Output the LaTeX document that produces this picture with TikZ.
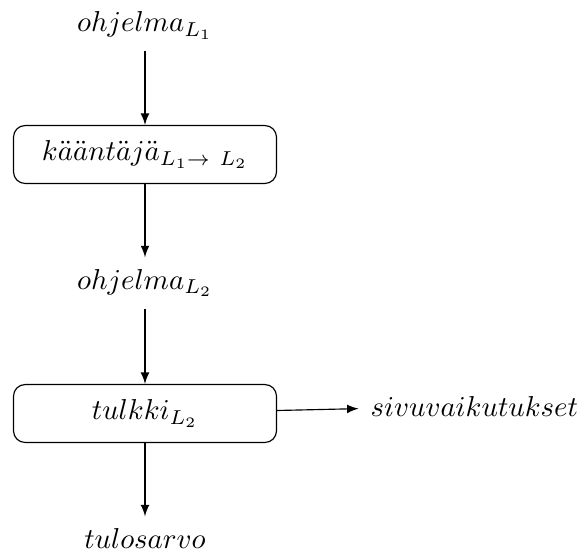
\documentclass[tikz,border=0pt]{standalone}
\usepackage{amsmath}
\usepackage{xcolor}
\usepackage{tikz}

\begin{document}
\begin{tikzpicture}[
			x=0.3472pt, y=-0.3472pt,
			% Define the style for the boxes, texts and arrows
			box/.style={rectangle, draw, rounded corners=4pt, minimum width=91.3pt, minimum height=20.1pt},
			txt/.style={inner sep=4pt},
			arr/.style={-latex}
			]
			\useasboundingbox (0, 0) rectangle (586, 552);
			
			\node (p1) at (145, 25.5) [txt] {$ohjelma_{L_1}$};
			\node (k) at (145, 154.5) [box] {$k\ddot{a}\ddot{a}nt\ddot{a}j\ddot{a}_{L_1\rightarrow\ L_2}$};
			\node (p2) at (145, 283) [txt] {$ohjelma_{L_2}$};
			\node (t) at (145, 413.5) [box] {$tulkki_{L_2}$};
			\node (s) at (474.5, 406) [txt] {$sivuvaikutukset$};
			\node (r) at (145, 538.5) [txt] {$tulosarvo$};
			
			\draw[arr] (p1) -- (k);
			\draw[arr] (k) -- (p2);
			\draw[arr] (p2) -- (t);
			\draw[arr] (t) -- (s);
			\draw[arr] (t) -- (r);
			
		\end{tikzpicture}
\end{document}
